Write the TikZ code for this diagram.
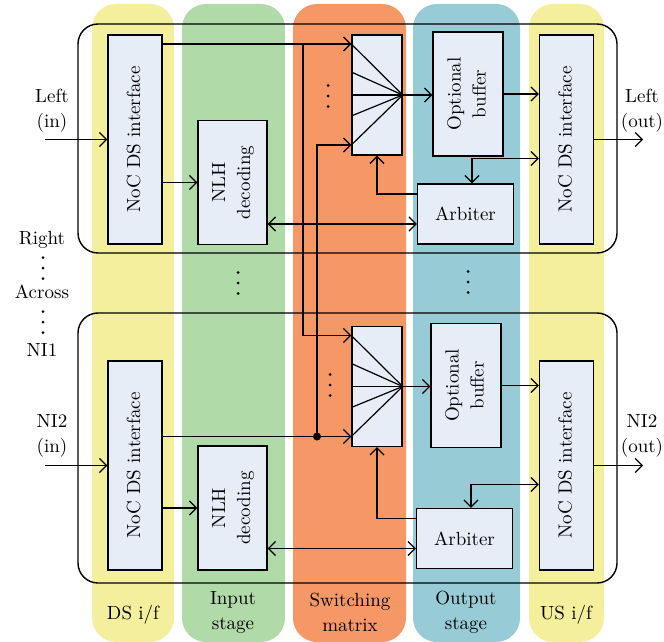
\documentclass[tikz,border=0pt]{standalone}
\usepackage{fontspec}
\usepackage{tikz}
\usetikzlibrary{calc,arrows.meta}
\definecolor{ylw}{HTML}{F3EF9C}
\definecolor{grn}{HTML}{B1DAA9}
\definecolor{org}{HTML}{F69766}
\definecolor{blu}{HTML}{97CBD6}
\definecolor{boxbg}{HTML}{E6EDF7}
\tikzset{
  ar/.style={-{Straight Barb[length=3.5pt,width=7pt]},line width=0.6pt},
  ar2/.style={{Straight Barb[length=3.5pt,width=7pt]}-{Straight Barb[length=3.5pt,width=7pt]},line width=0.6pt},
  box/.style={draw,line width=0.7pt,fill=boxbg,inner sep=0pt,align=center},
  dsbox/.style={box,minimum width=27pt,minimum height=104.5pt},
  nlhbox/.style={box,minimum width=34.5pt,minimum height=62pt},
  swbox/.style={box,minimum width=25pt,minimum height=60pt},
  bufbox/.style={box,minimum width=35pt,minimum height=62pt},
  arbbox/.style={box,minimum width=48pt,minimum height=30pt},
  stripe/.style={rounded corners=12pt},
  frame/.style={line width=0.7pt,rounded corners=10pt},
  lbl/.style={align=center,inner sep=0pt}
}
\newcommand{\vtxt}[1]{\rotatebox{90}{\begin{tabular}{@{}c@{}}#1\end{tabular}}}
\newcommand{\threedots}[2]{\foreach \k in {-1,0,1}{\fill (#1,{#2+10.5*\k}) circle (0.75pt);}}

\begin{document}
\begin{tikzpicture}[x=0.5pt,y=-0.5pt,font=\fontsize{9.5}{12.5}\selectfont]
\useasboundingbox (0,0) rectangle (664,642);
% stage stripes
\fill[ylw,stripe] (92,4) rectangle (174,642);
\fill[grn,stripe] (182,4) rectangle (285,642);
\fill[org,stripe] (293,4) rectangle (406,642);
\fill[blu,stripe] (413,4) rectangle (520,642);
\fill[ylw,stripe] (529,4) rectangle (604,642);
\node[lbl] (cap1) at (133,615) {DS i/f};
\node[lbl] (cap2) at (233,612) {Input\\stage};
\node[lbl] (cap3) at (350,612) {Switching\\matrix};
\node[lbl] (cap4) at (466,612) {Output\\stage};
\node[lbl] (cap5) at (566,615) {US i/f};

% router frames
\draw[frame] (78,24) rectangle (617,253);
\draw[frame] (78,313) rectangle (617,583);

% upper port
\node[dsbox] (dsL1) at (135,139.5) {\vtxt{NoC DS interface}};
\node[nlhbox] (nlh1) at (232.5,182.5) {\vtxt{NLH\\decoding}};
\node[swbox] (sw1) at (377,95) {};
\node[bufbox] (buf1) at (468,94) {\vtxt{Optional\\buffer}};
\node[arbbox] (arb1) at (465.5,214) {Arbiter};
\node[dsbox] (usR1) at (566.5,139.5) {\vtxt{NoC DS interface}};

% lower port
\node[dsbox] (dsL2) at (135,465.5) {\vtxt{NoC DS interface}};
\node[nlhbox] (nlh2) at (232.5,508) {\vtxt{NLH\\decoding}};
\node[swbox] (sw2) at (377,386.5) {};
\node[bufbox] (buf2) at (466,385.5) {\vtxt{Optional\\buffer}};
\node[arbbox] (arb2) at (464.5,538.5) {Arbiter};
\node[dsbox] (usR2) at (566.5,465.5) {\vtxt{NoC DS interface}};

% crossbar fans
\foreach \s in {sw1,sw2}
  \foreach \d in {-51,-23,0,21,50}
    \draw[line width=0.6pt] ($(\s.west)+(0,\d)$) -- (\s.east);
\coordinate (a1) at ($(sw1.west)+(0,-51)$);
\coordinate (b1) at ($(sw1.west)+(0,50)$);
\coordinate (a2) at ($(sw2.west)+(0,-51)$);
\coordinate (b2) at ($(sw2.west)+(0,50)$);
\coordinate (busA) at (303,0);
\coordinate (busB) at (317,0);
\coordinate (inx) at (45,0);
\coordinate (outx) at (643,0);

% cross connections between the two ports
\draw[ar] (dsL1.east |- a1) -- (a1);
\draw[ar] (a1 -| busA) -- (a2 -| busA) -- (a2);
\draw[ar] (dsL2.east |- b2) -- (b2);
\draw[ar] (b2 -| busB) -- (b1 -| busB) -- (b1);
\fill (b2 -| busB) circle (2pt);

% per port links
\foreach \i in {1,2}{
  \draw[ar] (dsL\i.west -| inx) -- (dsL\i.west);
  \draw[ar] (dsL\i.east |- nlh\i.west) -- (nlh\i.west);
  \draw[ar2] (nlh\i.east |- {$(arb\i.west)+(0,10)$}) -- ($(arb\i.west)+(0,10)$);
  \draw[ar] (sw\i.east) -- (sw\i.east -| buf\i.west);
  \draw[ar] (buf\i.east) -- (buf\i.east -| usR\i.west);
  \draw[ar] ($(arb\i.west)+(0,-20)$) -| (sw\i.south);
  \draw[ar2] ($(arb\i.north)+(6.5,0)$) |- ($(usR\i.west)+(0,19)$);
  \draw[ar] (usR\i.east) -- (usR\i.east -| outx);
}

% port names
\node[lbl] (lin) at (52,111) {Left\\(in)};
\node[lbl] (lout) at (642,111) {Left\\(out)};
\node[lbl] (nin) at (52,436) {NI2\\(in)};
\node[lbl] (nout) at (642,436) {NI2\\(out)};
\node[lbl] (rgt) at (42,240) {Right};
\node[lbl] (acr) at (42,292) {Across};
\node[lbl] (ni1) at (42,350) {NI1};
\threedots{43}{268}
\threedots{43}{322}

% elided ports
\threedots{328}{96}
\threedots{330}{385}
\threedots{238}{283}
\threedots{468}{282}
\end{tikzpicture}
\end{document}
